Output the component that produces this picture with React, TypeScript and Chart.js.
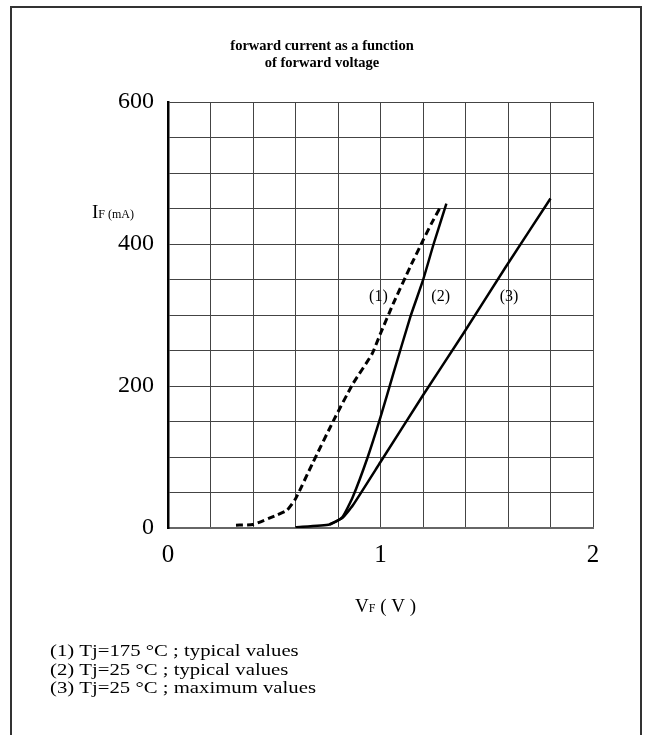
import React, { useEffect, useRef } from "react";
import { Chart, registerables } from "chart.js";

Chart.register(...registerables);

// Curve (1): Tj = 175 °C typical (dashed)
const curve1V = [0.32, 0.40, 0.51, 0.56, 0.60, 0.68, 0.78, 0.87, 0.96, 1.00, 1.06, 1.14, 1.20, 1.24, 1.28];
const curve1I = [4, 5, 18, 25, 41, 91, 152, 203, 245, 274, 316, 368, 405, 429, 451];
// Curve (2): Tj = 25 °C typical
const curve2V = [0.60, 0.76, 0.82, 0.87, 0.94, 1.00, 1.06, 1.14, 1.20, 1.25, 1.31];
const curve2I = [1, 5, 15, 44, 100, 156, 217, 297, 349, 400, 457];
// Curve (3): Tj = 25 °C maximum
const curve3V = [0.76, 0.82, 0.87, 1.00, 1.20, 1.39, 1.59, 1.80];
const curve3I = [5, 14, 32, 93, 187, 274, 368, 464];

const curveLabels = ["(1)", "(2)", "(3)"];
const curveLabelV = [0.99, 1.283, 1.605];
const curveLabelI = [326, 326, 326];

const titleLines = ["forward current as a function", "of forward voltage"];
const legendLines = [
  "(1) Tj=175 °C ; typical values",
  "(2) Tj=25 °C ; typical values",
  "(3) Tj=25 °C ; maximum values",
];

const SERIF = '"Liberation Serif", "Times New Roman", serif';

const toPoints = (xs: number[], ys: number[]) => xs.map((x, i) => ({ x, y: ys[i] }));

const decorPlugin = {
  id: "decor",
  afterDraw(chart: any) {
    const ctx = chart.ctx as CanvasRenderingContext2D;
    ctx.save();
    // frame
    ctx.strokeStyle = "#333";
    ctx.lineWidth = 2;
    ctx.strokeRect(11, 7, 630, 760);

    ctx.fillStyle = "#000";
    // title
    ctx.font = `bold 14.5px ${SERIF}`;
    ctx.textAlign = "center";
    ctx.textBaseline = "middle";
    ctx.fillText(titleLines[0], 322, 46);
    ctx.fillText(titleLines[1], 322, 63);

    // curve labels
    const xs = chart.scales.x;
    const ys = chart.scales.y;
    ctx.font = `16px ${SERIF}`;
    curveLabels.forEach((t, i) => {
      ctx.fillText(t, xs.getPixelForValue(curveLabelV[i]), ys.getPixelForValue(curveLabelI[i]));
    });

    // y axis title: I_F (mA)
    ctx.textAlign = "left";
    ctx.textBaseline = "alphabetic";
    let x = 92;
    const yb = 218;
    ctx.font = `19px ${SERIF}`;
    ctx.fillText("I", x, yb);
    x += ctx.measureText("I").width;
    ctx.font = `12px ${SERIF}`;
    ctx.fillText("F (mA)", x, yb);

    // x axis title: V_F ( V )
    x = 355;
    const xb = 612;
    ctx.font = `19px ${SERIF}`;
    ctx.fillText("V", x, xb);
    x += ctx.measureText("V").width;
    ctx.font = `12px ${SERIF}`;
    ctx.fillText("F", x, xb);
    x += ctx.measureText("F").width;
    ctx.font = `19px ${SERIF}`;
    ctx.fillText(" ( V )", x, xb);

    // legend text (slightly wide face in the original)
    ctx.font = `17px ${SERIF}`;
    ctx.textBaseline = "middle";
    legendLines.forEach((t, i) => {
      ctx.save();
      ctx.translate(50, 652 + i * 18.5);
      ctx.scale(1.22, 1);
      ctx.fillText(t, 0, 0);
      ctx.restore();
    });
    ctx.restore();
  },
};

export default function App() {
  const ref = useRef<HTMLCanvasElement>(null);
  useEffect(() => {
    if (!ref.current) return;
    const line = {
      borderColor: "#000",
      borderWidth: 2.5,
      pointRadius: 0,
      fill: false,
      tension: 0.15,
    };
    const chart = new Chart(ref.current, {
      type: "scatter",
      data: {
        datasets: [
          { ...line, label: "(1)", data: toPoints(curve1V, curve1I), showLine: true, borderDash: [7, 4], borderWidth: 3 },
          { ...line, label: "(2)", data: toPoints(curve2V, curve2I), showLine: true },
          { ...line, label: "(3)", data: toPoints(curve3V, curve3I), showLine: true },
        ],
      },
      options: {
        animation: false,
        responsive: false,
        layout: { padding: { left: 108, right: 55, top: 102, bottom: 157 } },
        plugins: { legend: { display: false }, title: { display: false }, tooltip: { enabled: false } },
        scales: {
          x: {
            type: "linear",
            min: 0,
            max: 2,
            afterFit: (s: any) => { s.height = 50; },
            ticks: {
              stepSize: 0.2,
              padding: 12,
              color: "#000",
              maxRotation: 0,
              autoSkip: false,
              font: { family: SERIF, size: 25 },
              callback: (v: any) => (Math.abs(v - Math.round(v)) < 1e-6 ? String(Math.round(v)) : ""),
            },
            grid: { color: "#444", lineWidth: 1, drawTicks: false },
            border: { color: "#666", width: 2 },
          },
          y: {
            type: "linear",
            min: 0,
            max: 600,
            afterFit: (s: any) => { s.width = 60; },
            ticks: {
              stepSize: 50,
              padding: 14,
              color: "#000",
              autoSkip: false,
              font: { family: SERIF, size: 24 },
              callback: (v: any) => (Math.round(v) % 200 === 0 ? String(Math.round(v)) : ""),
            },
            grid: { color: "#444", lineWidth: 1, drawTicks: false },
            border: { color: "#000", width: 2.5 },
          },
        },
      },
      plugins: [decorPlugin],
    });
    return () => chart.destroy();
  }, []);
  return (
    <div style={{ position: "fixed", left: 0, top: 0, width: 648, height: 735, background: "#fff" }}>
      <canvas ref={ref} width={648} height={735} style={{ width: 648, height: 735 }} />
    </div>
  );
}
